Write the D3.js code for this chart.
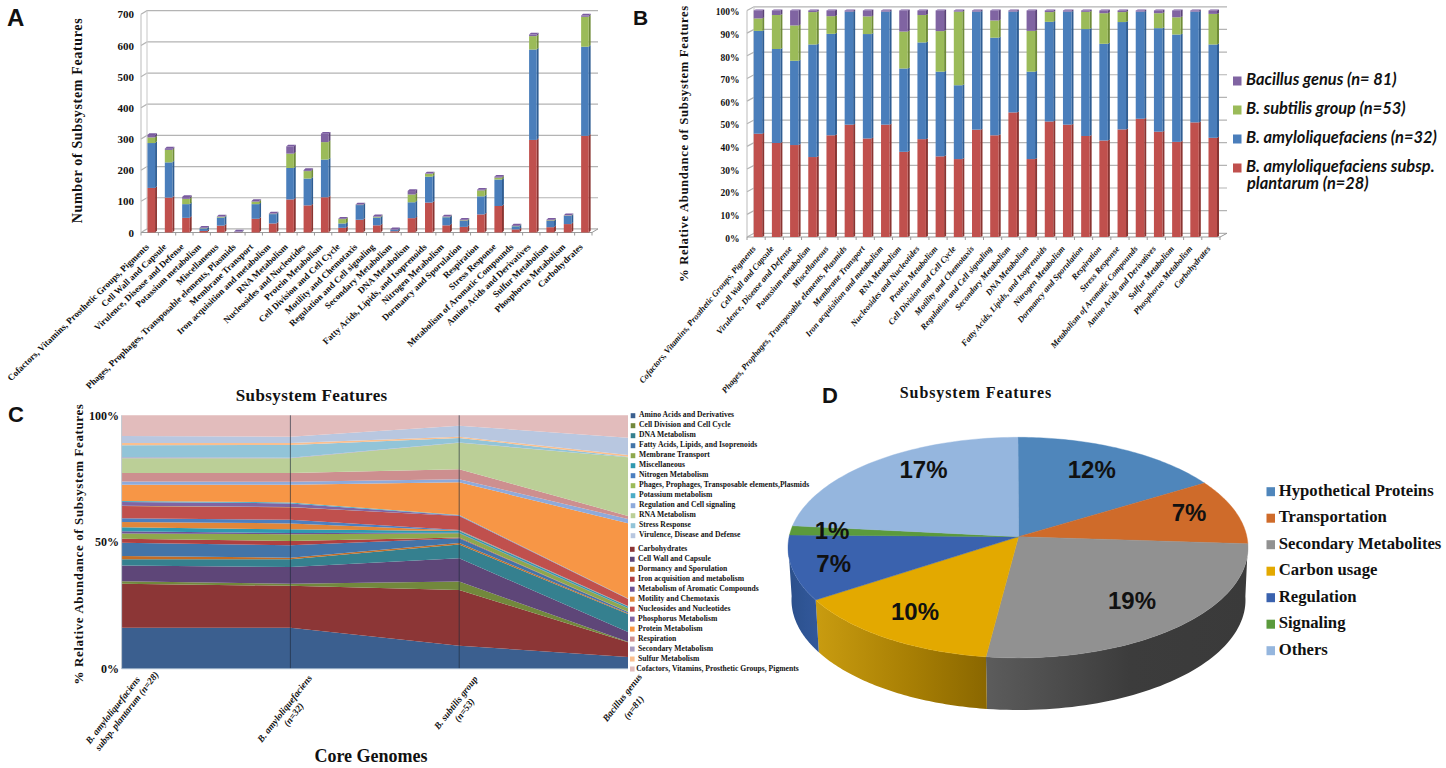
<!DOCTYPE html>
<html><head><meta charset="utf-8">
<script src="https://cdn.jsdelivr.net/npm/d3@7/dist/d3.min.js"></script>
<style>html,body{margin:0;padding:0;background:#fff}svg{display:block}text{fill:#111}</style>
</head><body><svg id="c" width="1446" height="768"></svg>
<script>
// ---------- DATA ----------
const categoriesAB = ["Cofactors, Vitamins, Prosthetic Groups, Pigments","Cell Wall and Capsule","Virulence, Disease and Defense","Potassium metabolism","Miscellaneous","Phages, Prophages, Transposable elements, Plasmids","Membrane Transport","Iron acquisition and metabolism","RNA Metabolism","Nucleosides and Nucleotides","Protein Metabolism","Cell Division and Cell Cycle","Motility and Chemotaxis","Regulation and Cell signaling","Secondary Metabolism","DNA Metabolism","Fatty Acids, Lipids, and Isoprenoids","Nitrogen Metabolism","Dormancy and Sporulation","Respiration","Stress Response","Metabolism of Aromatic Compounds","Amino Acids and Derivatives","Sulfur Metabolism","Phosphorus Metabolism","Carbohydrates"];
const seriesNames = ["plantarum","amyloliquefaciens","subtilis","bacillus"];
const seriesColors = ["#c0504d","#4a7ebb","#9bbb59","#8064a2"];
const seriesSides  = ["#8a3431","#2f5d92","#6f8c38","#5b4378"];
const seriesCaps   = ["#d0706d","#7aa2d2","#b5cf7f","#7a5ba0"];
const aPlantarum = [143,112,47,5,22,1,44,29,106,87,113,15,41,23,4,46,96,23,18,58,85,10,297,17,27,310];
const aAmylo     = [144,113,44,8,26,1,47,30,101,86,121,14,47,25,5,51,83,26,19,58,85,10,290,20,26,286];
const aSubtilis  = [18,40,17,1,2,0,8,1,46,24,56,14,1,2,0,25,9,1,2,19,6,1,43,2,1,96];
const aBacillus  = [8,4,6,1,1,1,2,1,23,3,27,1,1,2,1,11,1,1,2,2,3,1,5,2,1,4];
const bPlantarum = [45.6,41.5,40.6,35.3,44.9,49.6,43.5,49.6,37.6,43.2,35.6,34.4,47.4,44.9,55,34.4,51,49.6,44.6,42.6,47.5,52.2,46.5,42,50.6,43.8];
const bAmylo     = [45.4,41.5,37.2,49.7,44.8,49.9,46.1,49.9,36.8,42.7,37.4,32.6,52.1,43.1,44.5,38.6,44,49.9,47.2,42.7,47.4,47.3,45.7,47.4,48.9,41.2];
const bSubtilis  = [5.5,15,15.6,14.3,7.8,0,7.8,0,16.3,12.1,17.9,32.5,0,7.6,0,18,4.3,0,7.6,13.5,4.4,0,6.6,7.6,0,13.5];
const bBacillus  = [3.5,2,6.6,0.7,2.5,0.5,2.6,0.5,9.3,2,9.1,0.5,0.5,4.4,0.5,9,0.7,0.5,0.6,1.2,0.7,0.5,1.2,3,0.5,1.5];
const aTicks = [0,100,200,300,400,500,600,700];
const bTicks = [0,10,20,30,40,50,60,70,80,90,100];
const bLegend = [["Bacillus genus (n= 81)"],["B. subtilis group (n=53)"],["B. amyloliquefaciens (n=32)"],["B. amyloliquefaciens subsp.","plantarum (n=28)"]];
const bLegendColors = ["#8064a2","#9bbb59","#4a7ebb","#c0504d"];

const cGenomes = [["B. amyloliquefaciens","subsp. plantarum (n=28)"],["B. amyloliquefaciens","(n=32)"],["B. subtilis group","(n=53)"],["Bacillus genus","(n=81)"]];
const cLayerNames = ["Amino Acids and Derivatives","Carbohydrates","Cell Division and Cell Cycle","Cell Wall and Capsule","DNA Metabolism","Dormancy and Sporulation","Fatty Acids, Lipids, and Isoprenoids","Iron acquisition and metabolism","Membrane Transport","Metabolism of Aromatic Compounds","Miscellaneous","Motility and Chemotaxis","Nitrogen Metabolism","Nucleosides and Nucleotides","Phages, Prophages, Transposable elements,Plasmids","Phosphorus Metabolism","Potassium metabolism","Protein Metabolism","Regulation and Cell signaling","Respiration","RNA Metabolism","Secondary Metabolism","Stress Response","Sulfur Metabolism","Virulence, Disease and Defense","Cofactors, Vitamins, Prosthetic Groups, Pigments"];
const cColors = ["#3b5f8f","#8c3636","#72883c","#5e4678","#35808f","#c36d25","#4374a8","#b04040","#8ea84d","#6d5294","#2f99b0","#e0863a","#4c7fc0","#c0504d","#9bbb59","#8064a2","#4bacc6","#f79646","#8eaadb","#cd8f8f","#bbcf97","#a89bc0","#92c4d8","#fabf8f","#b8c7e0","#e2bcbc"];
const cCol1 = [16.2,17.35,0.95,6.3,2.4,1.3,5.25,1.6,2.1,0.8,1.6,2.1,1.45,4.85,0.1,1.5,0.4,6.45,1.2,3.45,5.8,0.4,4.75,0.9,2.75,8.15];
const cCol2 = [16.2,16.55,0.8,6.6,3.05,0.65,4.9,1.7,2.65,0.5,1.45,2.35,1.4,5,0.05,1.45,0.4,6.95,1.2,3.45,5.8,0.25,5,0.8,2.5,8.45];
const cCol3 = [9.1,22,3.3,9.25,5.35,0.65,1.85,0.3,1.65,0.2,0.7,0.2,0.2,5.5,0.05,0.15,0.25,12.9,1.2,3.95,10.5,0.1,1.75,0.5,4.35,4.1];
const cCol4 = [4.6,5.8,0.2,3.85,7.2,0.3,0.4,0.1,1.45,0.1,0.6,0.05,0.1,2.75,0.05,0.1,0.05,29.75,1.7,1.2,23.15,0.05,0.2,0.65,6.85,8.85];
const cTicks = [0,50,100];
const cLegendTop = ["Amino Acids and Derivatives","Cell Division and Cell Cycle","DNA Metabolism","Fatty Acids, Lipids, and Isoprenoids","Membrane Transport","Miscellaneous","Nitrogen Metabolism","Phages, Prophages, Transposable elements,Plasmids","Potassium metabolism","Regulation and Cell signaling","RNA Metabolism","Stress Response","Virulence, Disease and Defense"];
const cLegendBottom = ["Carbohydrates","Cell Wall and Capsule","Dormancy and Sporulation","Iron acquisition and metabolism","Metabolism of Aromatic Compounds","Motility and Chemotaxis","Nucleosides and Nucleotides","Phosphorus Metabolism","Protein Metabolism","Respiration","Secondary Metabolism","Sulfur Metabolism","Cofactors, Vitamins, Prosthetic Groups, Pigments"];

const pieNames  = ["Hypothetical Proteins","Transportation","Secondary Metabolites","Carbon usage","Regulation","Signaling","Others"];
const pieLabels = ["12%","7%","19%","10%","7%","1%","17%"];
const pieShares = [54.2,33.8,100,53.6,35,4.8,78.6];   // slice sizes as drawn in the picture
const pieColors = ["#4f86bb","#cf6b2a","#919191","#e3a900","#3a62ae","#5b9a3c","#95b6de"];

// ---------- HELPERS ----------
const svg = d3.select("#c");
const SERIF = "'Liberation Serif','Times New Roman',serif";
const SANS = "'Liberation Sans',Arial,sans-serif";
const defs = svg.append("defs");
const txt = (g,x,y,s,size,o={}) => g.append("text").attr("x",x).attr("y",y).text(s)
  .attr("font-family",o.family||SERIF).attr("font-size",size).attr("font-weight",o.weight||"bold")
  .attr("font-style",o.style||"normal").attr("text-anchor",o.anchor||"start")
  .attr("letter-spacing",o.ls||0).attr("dominant-baseline",o.base||"auto")
  .attr("transform",o.rot!=null?`rotate(${o.rot} ${x} ${y})`:null);

function panelLetter(s,x,y,size){ txt(svg,x,y,s,size,{family:SANS}); }

function bars3D(o){
  const g = svg.append("g");
  const x = d3.scaleBand().domain(categoriesAB).range([o.x0,o.x1]);
  const y = d3.scaleLinear().domain([0,o.max]).range([o.y0,o.y1]);
  // back wall and grid
  const wall = g.append("g").attr("fill","none").attr("stroke","#b4b4b4").attr("stroke-width",1.2);
  o.ticks.forEach(t=>{
    wall.append("path").attr("d",d3.line()([[o.x0,y(t)],[o.x0+o.wx,y(t)-o.wy],[o.x1+o.wx,y(t)-o.wy]]));
  });
  wall.append("path").attr("d",d3.line()([[o.x0+o.wx,y(0)-o.wy],[o.x0+o.wx,y(o.max)-o.wy]])).attr("stroke","#d0d0d0");
  // floor and axis
  g.append("path").attr("d",d3.line()([[o.x0,y(0)],[o.x1,y(0)],[o.x1+o.wx,y(0)-o.wy]])).attr("fill","none").attr("stroke","#999");
  g.append("path").attr("d",d3.line()([[o.x0,y(0)],[o.x0,y(o.max)]])).attr("fill","none").attr("stroke","#bbb");
  const ax = d3.axisBottom(x).tickSize(0).tickPadding(0);
  const axG = g.append("g").attr("transform",`translate(0,${y(0)})`).call(ax);
  axG.select(".domain").remove();
  axG.selectAll("text").attr("font-family",SERIF).attr("font-size",o.catSize).attr("font-weight","bold")
    .attr("font-style",o.catStyle).attr("text-anchor","end").attr("dy",0)
    .attr("transform",`translate(${o.catDx},${o.catDy}) rotate(${o.catRot})`).attr("fill","#111");
  axG.selectAll(".tick line").remove();
  categoriesAB.concat(["end"]).forEach((c,i)=>{
    const px = o.x0 + i*x.step();
    g.append("line").attr("x1",px).attr("x2",px).attr("y1",y(0)).attr("y2",y(0)+3).attr("stroke","#999");
  });
  // y labels
  const yAx = d3.axisLeft(y).tickValues(o.ticks).tickSize(0).tickPadding(0).tickFormat(o.fmt);
  const yG = g.append("g").attr("transform",`translate(${o.labelX},${o.labelShift})`).call(yAx);
  yG.select(".domain").remove();
  yG.selectAll("text").attr("font-family",SERIF).attr("font-size",o.tickSize).attr("font-weight","bold").attr("fill","#111");
  // stacked columns
  const rows = categoriesAB.map((c,i)=>({c,plantarum:o.s[0][i],amyloliquefaciens:o.s[1][i],subtilis:o.s[2][i],bacillus:o.s[3][i]}));
  const stacked = d3.stack().keys(seriesNames)(rows);
  const cx = d=>x(d.data.c)+x.bandwidth()/2+o.barDx;
  stacked.forEach((layer,k)=>{
    const lg = g.append("g");
    lg.selectAll("path.side").data(layer).join("path").attr("class","side").attr("fill",seriesSides[k])
      .attr("d",d=>{const a=cx(d)+o.bw,t=y(d[1]),b=y(d[0]);return d3.line()([[a,b],[a+o.dx,b-o.dy],[a+o.dx,t-o.dy],[a,t]])+"Z";});
    lg.selectAll("rect").data(layer).join("rect").attr("fill",seriesColors[k])
      .attr("x",cx).attr("width",o.bw).attr("y",d=>y(d[1])).attr("height",d=>Math.max(0,y(d[0])-y(d[1])));
  });
  const top = stacked[3];
  g.append("g").selectAll("path").data(top).join("path").attr("fill",seriesCaps[3])
    .attr("d",d=>{const a=cx(d),t=y(d[1]);return d3.line()([[a,t],[a+o.dx,t-o.dy],[a+o.bw+o.dx,t-o.dy],[a+o.bw,t]])+"Z";});
}

// ---------- PANEL A ----------
panelLetter("A",7,26,24);
bars3D({x0:141,x1:592,y0:232.5,y1:14.3,max:700,ticks:aTicks,fmt:d=>d,wx:6,wy:3.6,
  s:[aPlantarum,aAmylo,aSubtilis,aBacillus],bw:7.6,dx:1.9,dy:1.8,barDx:-2.2,
  catSize:9.1,catStyle:"normal",catRot:-44,catDx:0,catDy:15,labelX:134,labelShift:0,tickSize:11});
txt(svg,79,120.5,"Number of Subsystem Features",14,{anchor:"middle",rot:-90,ls:0.65,base:"middle"});
txt(svg,311.7,401,"Subsystem Features",17,{anchor:"middle",ls:0.4});

// ---------- PANEL B ----------
panelLetter("B",633,25,21);
bars3D({x0:747,x1:1220,y0:237,y1:10.5,max:100,ticks:bTicks,fmt:d=>d+"%",wx:7,wy:3.7,
  s:[bPlantarum,bAmylo,bSubtilis,bBacillus],bw:8.5,dx:2,dy:1,barDx:-2.4,
  catSize:8.6,catStyle:"italic",catRot:-50,catDx:0,catDy:12,labelX:739.5,labelShift:1.2,tickSize:9.5});
txt(svg,684.7,143.5,"% Relative Abundance of Subsystem Features",12.7,{anchor:"middle",rot:-90,ls:0.65,base:"middle"});
const bLeg = svg.append("g");
bLegend.forEach((lines,i)=>{
  const cy = d3.scaleLinear().domain([0,3]).range([81,168])(i);
  bLeg.append("rect").attr("x",1233).attr("y",cy-4.5).attr("width",8.5).attr("height",9).attr("fill",bLegendColors[i]);
  lines.forEach((l,j)=>txt(bLeg,1246+(j?1:0),cy+j*17,l,16.4,{family:"Lato",style:"italic",base:"middle"}));
});

// ---------- PANEL C ----------
panelLetter("C",8,422,22);
const cg = svg.append("g");
const cx = d3.scalePoint().domain(cGenomes.map(d=>d[0]+d[1])).range([121.6,628]);
const cy = d3.scaleLinear().domain([0,100]).range([668.7,415.3]);
const cRows = cGenomes.map((d,i)=>{
  const r={g:d[0]+d[1]}; const cols=[cCol1,cCol2,cCol3,cCol4][i];
  cLayerNames.forEach((n,k)=>r[n]=cols[k]); return r; });
const cStack = d3.stack().keys(cLayerNames).offset(d3.stackOffsetExpand)(cRows);
const cArea = d3.area().x(d=>cx(d.data.g)).y0(d=>cy(d[0]*100)).y1(d=>cy(d[1]*100));
cg.selectAll("path.layer").data(cStack).join("path").attr("class","layer").attr("d",cArea)
  .attr("fill",(d,i)=>cColors[i]);
cGenomes.slice(1,3).forEach(d=>{
  cg.append("line").attr("x1",cx(d[0]+d[1])).attr("x2",cx(d[0]+d[1])).attr("y1",cy(100)).attr("y2",cy(0))
    .attr("stroke","#1d2a3a").attr("stroke-opacity",.7).attr("stroke-width",.9);
});
cg.append("line").attr("x1",cx.range()[0]).attr("x2",cx.range()[1]).attr("y1",cy(0)).attr("y2",cy(0)).attr("stroke","#9ab0c8");
cg.append("line").attr("x1",cx.range()[0]).attr("x2",cx.range()[0]).attr("y1",cy(0)).attr("y2",cy(100)).attr("stroke","#c0c8d0");
const cyAx = cg.append("g").attr("transform","translate(119,0)").call(d3.axisLeft(cy).tickValues(cTicks).tickSize(0).tickPadding(0).tickFormat(d=>d+"%"));
cyAx.select(".domain").remove();
cyAx.selectAll("text").attr("font-family",SERIF).attr("font-size",12).attr("font-weight","bold").attr("fill","#111");
const cLabelOffsets = [[[-8,42],[6,43]],[[-5,40.5],[4,46.5]],[[-2.6,34.5],[6,42]],[[-5,29.5],[6.5,39.5]]];
cGenomes.forEach((d,i)=>d.forEach((l,j)=>{
  const o=cLabelOffsets[i][j];
  txt(cg,cx(d[0]+d[1])+o[0],cy(0)+o[1],l,9.5,{style:"italic",anchor:"middle",rot:-52,base:"middle"});
}));
txt(svg,80,544,"% Relative Abundance of Subsystem Features",12.9,{anchor:"middle",rot:-90,ls:0.65,base:"middle"});
txt(svg,371,762,"Core Genomes",18,{anchor:"middle"});
const cLeg = svg.append("g");
const colorOf = n=>cColors[cLayerNames.indexOf(n)];
const rowTop = d3.scaleLinear().domain([0,12]).range([415.7,535.7]);
cLegendTop.forEach((n,i)=>{
  cLeg.append("rect").attr("x",630.7).attr("y",rowTop(i)-2.5).attr("width",4.6).attr("height",5).attr("fill",colorOf(n));
  txt(cLeg,639,rowTop(i),n,7.6,{base:"middle",ls:0.03});
});
const rowBot = d3.scaleLinear().domain([0,12]).range([549.3,669]);
cLegendBottom.forEach((n,i)=>{
  const last = i===12;
  cLeg.append("rect").attr("x",630).attr("y",rowBot(i)-2.5).attr("width",4.6).attr("height",5).attr("fill",colorOf(n));
  txt(cLeg,last?636.3:638,rowBot(i),n,7.6,{base:"middle",ls:0.03});
});

// ---------- PANEL D ----------
panelLetter("D",822,403,22);
txt(svg,976,398,"Subsystem Features",16,{anchor:"middle",ls:0.9});
const pd = svg.append("g");
const slices = d3.pie().sort(null).value(d=>d)(pieShares);
// ellipse of the top face and of the bottom rim, with the perspective apex
const topE = {cx:1018,cy:547.6,rx:230,ry:110.3};
const botE = {cx:1018.5,cy:600,rx:227,ry:110};
const apex = [1018.5,536.7];
const ePt = (e,a)=>[e.cx+e.rx*Math.sin(a),e.cy-e.ry*Math.cos(a)];
const arcPts = (e,a0,a1)=>d3.range(0,61).map(i=>ePt(e,a0+(a1-a0)*i/60));
const line = d3.line();
// side walls
const frontEnd = 272*Math.PI/180, frontStart = 88*Math.PI/180;
function gradient(id,c0,c1,c2){
  const g = defs.append("linearGradient").attr("id",id);
  g.append("stop").attr("offset","0%").attr("stop-color",c0);
  g.append("stop").attr("offset","55%").attr("stop-color",c1);
  g.append("stop").attr("offset","100%").attr("stop-color",c2);
}
gradient("sideGray","#5c5c5c","#3c3c3c","#3a3a3a");
gradient("sideGold","#c99c10","#a87f04","#8a6700");
gradient("sideBlue","#2b4f8a","#2f5595","#33589a");
const sideFill = {2:"url(#sideGray)",3:"url(#sideGold)",4:"url(#sideBlue)",1:"#3a3a3a"};
slices.forEach((s,i)=>{
  const a0=Math.max(s.startAngle,frontStart), a1=Math.min(s.endAngle,frontEnd);
  if(a1<=a0) return;
  pd.append("path").attr("d",line(arcPts(topE,a0,a1).concat(arcPts(botE,a0,a1).reverse()))+"Z").attr("fill",sideFill[i]);
});
// top faces
pd.selectAll("path.top").data(slices).join("path").attr("class","top")
  .attr("d",s=>line([apex].concat(arcPts(topE,s.startAngle,s.endAngle)))+"Z")
  .attr("fill",(s,i)=>pieColors[i]).attr("stroke",(s,i)=>pieColors[i]).attr("stroke-width",.4);
const pieLabelAt = [[1091.8,471.7],[1189,515],[1132,602.7],[915,614],[833.7,566],[832,532.7],[923.5,472]];
pieLabels.forEach((l,i)=>txt(pd,pieLabelAt[i][0],pieLabelAt[i][1],l,24,{family:SANS,anchor:"middle",base:"middle"}));
const pieLegY = d3.scaleLinear().domain([0,6]).range([491.7,650.7]);
pieNames.forEach((n,i)=>{
  pd.append("rect").attr("x",1266.5).attr("y",pieLegY(i)-4.5).attr("width",8.5).attr("height",9).attr("fill",pieColors[i]);
  txt(pd,1278.7,pieLegY(i),n,16.7,{base:"middle"});
});
</script></body></html>
